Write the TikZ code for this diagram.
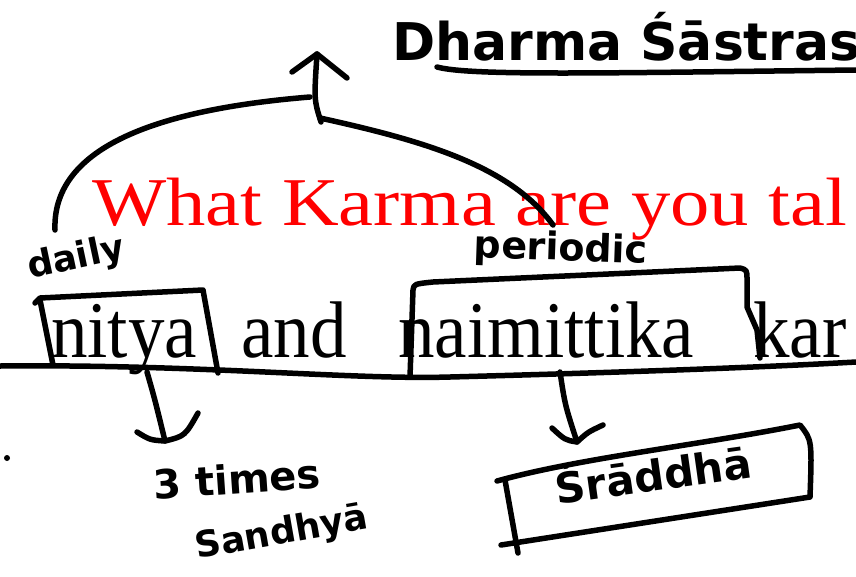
\documentclass[tikz,border=0pt]{standalone}
\usepackage{fontspec}
\setmainfont{Liberation Serif}
\newfontfamily\handfont{DejaVu Sans Bold}
\tikzset{
  ink/.style={line width=5.5pt, line cap=round, line join=round, draw=black},
  slidetitle/.style={font=\fontsize{78.6}{80}\selectfont, text=red, inner sep=0pt},
  slideword/.style={font=\fontsize{73}{76}\selectfont, text=black, inner sep=0pt, anchor=base west},
  handtext/.style={font=\handfont, text=black, inner sep=0pt}
}
\begin{document}
\begin{tikzpicture}[x=1pt,y=-1pt]
\useasboundingbox (0,0) rectangle (856,576);
\clip (0,0) rectangle (856,576);

% slide text
\node[slidetitle, anchor=base west] (title) at (92,225) {\scalebox{1}[0.87]{What Karma are you tal}};
\node[slideword, anchor=base east] (o) at (3,357) {\scalebox{1}[1.1]{o}};
\node[slideword] (nitya) at (51,357) {\scalebox{1}[1.1]{nitya}};
\node[slideword] (and) at (241,357) {\scalebox{1}[1.1]{and}};
\node[slideword] (naim) at (398,357) {\scalebox{1}[1.1]{naimittika}};
\node[slideword] (kar) at (753,357) {\scalebox{1}[1.1]{kar}};

% handwritten labels
\node[handtext, anchor=base west, font=\handfont\fontsize{52}{56}\selectfont] (dharma) at (392,60) {Dharma Śāstras};
\node[handtext, rotate=12, font=\handfont\fontsize{36}{40}\selectfont] (daily) at (76,259) {daily};
\node[handtext, rotate=-2, font=\handfont\fontsize{38}{42}\selectfont] (periodic) at (561,250) {periodic};
\node[handtext, rotate=4, font=\handfont\fontsize{40}{44}\selectfont] (times) at (237,479) {3 times};
\node[handtext, rotate=10, font=\handfont\fontsize{36}{40}\selectfont] (sandhya) at (282,534) {Sandhyā};
\node[handtext, rotate=8, font=\handfont\fontsize{42}{46}\selectfont] (sraddha) at (653,472) {Śrāddhā};

% coordinates
\coordinate (dailyend) at (55,230);
\coordinate (join) at (310,97);
\coordinate (joinb) at (320,118);
\coordinate (perend) at (553,225);
\coordinate (shaftbot) at (321,122);
\coordinate (tip) at (317,54);
\coordinate (hl) at (292,72);
\coordinate (hr) at (347,78);

% upward tree to Dharma Sastras
\draw[ink] (dailyend) .. controls (52,150) and (150,110) .. (join);
\draw[ink] (joinb) .. controls (420,140) and (510,165) .. (perend);
\draw[ink] (shaftbot) .. controls (314,100) .. (tip);
\draw[ink] (hl) -- (tip) -- (hr);

% underline of Dharma Sastras
\coordinate (ul1) at (437,67);
\coordinate (ul2) at (856,70);
\draw[ink] (ul1) .. controls (470,76) and (600,73) .. (ul2);

% long base line
\coordinate (bl1) at (0,366);
\coordinate (bl2) at (450,377);
\coordinate (bl3) at (856,362);
\draw[ink] (bl1) .. controls (200,364) and (350,380) .. (bl2) .. controls (600,373) and (750,368) .. (bl3);

% box around nitya
\draw[ink] (35,303) -- (40,298) -- (203,290) -- (218,373);
\draw[ink] (40,300) -- (53,365);

% box around naimittika
\draw[ink] (410,377) -- (413,290) .. controls (414,284) .. (433,282) -- (740,268) .. controls (747,270) .. (747,280) -- (747,307) -- (757,330) -- (760,358);

% arrow from nitya down to 3 times
\coordinate (na1) at (147,372);
\coordinate (na2) at (165,441);
\draw[ink] (na1) .. controls (155,400) .. (na2);
\draw[ink] (137,432) .. controls (150,440) .. (na2) .. controls (185,436) .. (198,413);

% dot
\fill (7,458) circle (3);

% arrow from naimittika down to sraddha
\coordinate (ma1) at (560,372);
\coordinate (ma2) at (577,442);
\draw[ink] (ma1) .. controls (565,405) .. (ma2);
\draw[ink] (552,428) .. controls (565,440) .. (ma2) .. controls (588,432) .. (603,425);

% box around sraddha
\draw[ink] (497,481) .. controls (580,458) and (700,445) .. (800,425) .. controls (812,440) .. (810,497) -- (501,545);
\draw[ink] (505,480) -- (518,553);
\end{tikzpicture}
\end{document}
